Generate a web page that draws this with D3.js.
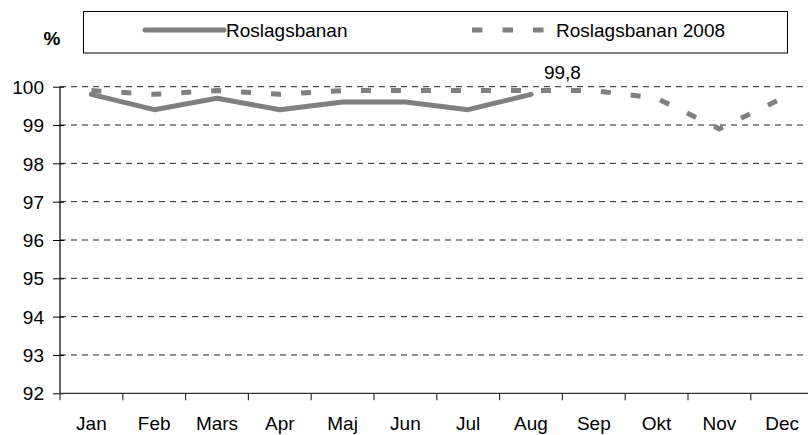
<!DOCTYPE html>
<html>
<head>
<meta charset="utf-8">
<script src="https://cdn.jsdelivr.net/npm/d3@7"></script>
<style>
  html, body { margin: 0; padding: 0; background: #fff; }
  svg { display: block; }
  text { font-family: "Liberation Sans", Arial, sans-serif; fill: #000; }
</style>
</head>
<body>
<svg id="chart" width="808" height="435"></svg>
<script>
const categories = ["Jan","Feb","Mars","Apr","Maj","Jun","Jul","Aug","Sep","Okt","Nov","Dec"];
const seriesNames = ["Roslagsbanan", "Roslagsbanan 2008"];
const roslagsbanan = [99.8, 99.4, 99.7, 99.4, 99.6, 99.6, 99.4, 99.8];
const roslagsbanan2008 = [99.9, 99.8, 99.9, 99.8, 99.9, 99.9, 99.9, 99.9, 99.9, 99.7, 98.9, 99.7];
const yTicks = [92, 93, 94, 95, 96, 97, 98, 99, 100];
const lastLabel = "99,8";

const svg = d3.select("#chart");
const W = 808, H = 435;
const x0 = 60, bandW = 62.8;
const x = d3.scaleBand().domain(categories).range([x0, x0 + bandW * categories.length]).padding(0);
const y = d3.scaleLinear().domain([92, 100]).range([393.3, 86.7]);
const cx = c => x(c) + x.bandwidth() / 2;

// gridlines
svg.append("g").selectAll("line").data(yTicks.filter(t => t !== 92)).join("line")
  .attr("x1", x0).attr("x2", W)
  .attr("y1", d => y(d)).attr("y2", d => y(d))
  .attr("stroke", "#222").attr("stroke-width", 1)
  .attr("stroke-dasharray", "6,5");

// y axis
const yAxis = d3.axisLeft(y).tickValues(yTicks).tickSize(7).tickPadding(9).tickFormat(d3.format("d"));
const gy = svg.append("g").attr("transform", `translate(${x0},0)`).call(yAxis);
gy.select(".domain").remove();
gy.selectAll(".tick line").attr("x1", -7).attr("x2", 4).attr("stroke", "#000");
gy.selectAll("text").style("font-size", "19px").attr("fill", "#000").attr("dy", "0.35em");
svg.append("line").attr("x1", x0).attr("x2", x0).attr("y1", y(100)).attr("y2", y(92))
  .attr("stroke", "#000").attr("stroke-width", 1.2);

// x axis
const xTickPos = categories.map(c => x(c));
svg.append("line").attr("x1", x0).attr("x2", W).attr("y1", y(92)).attr("y2", y(92))
  .attr("stroke", "#333").attr("stroke-width", 1.3);
svg.append("g").selectAll("line").data(xTickPos).join("line")
  .attr("x1", d => d).attr("x2", d => d)
  .attr("y1", y(92)).attr("y2", y(92) + 7)
  .attr("stroke", "#333").attr("stroke-width", 1.2);
svg.append("g").selectAll("text").data(categories).join("text")
  .attr("x", d => cx(d)).attr("y", 430)
  .attr("text-anchor", "middle").style("font-size", "19px")
  .text(d => d);

// lines
const line = d3.line().x((d, i) => cx(categories[i])).y(d => y(d));
svg.append("path").datum(roslagsbanan2008)
  .attr("d", line).attr("fill", "none")
  .attr("stroke", "#808080").attr("stroke-width", 5)
  .attr("stroke-dasharray", "10,20");
svg.append("path").datum(roslagsbanan)
  .attr("d", line).attr("fill", "none")
  .attr("stroke", "#808080").attr("stroke-width", 5)
  .attr("stroke-linejoin", "round").attr("stroke-linecap", "round");

// data label
const li = roslagsbanan.length - 1;
svg.append("text")
  .attr("x", cx(categories[li]) + x.bandwidth() / 2)
  .attr("y", y(roslagsbanan[li]) - 15)
  .attr("text-anchor", "middle").style("font-size", "19px")
  .text(lastLabel);

// % label
svg.append("text").attr("x", 52).attr("y", 45).attr("text-anchor", "middle")
  .style("font-size", "19px").style("font-weight", "bold").text("%");

// legend
svg.append("rect").attr("x", 83.5).attr("y", 11.5).attr("width", 704).attr("height", 41.5)
  .attr("fill", "#fff").attr("stroke", "#000").attr("stroke-width", 1);
svg.append("line").attr("x1", 145).attr("x2", 224).attr("y1", 30).attr("y2", 30)
  .attr("stroke", "#808080").attr("stroke-width", 5).attr("stroke-linecap", "round");
svg.append("text").attr("x", 226).attr("y", 37).style("font-size", "19px").text(seriesNames[0]);
svg.append("line").attr("x1", 472).attr("x2", 545).attr("y1", 30).attr("y2", 30)
  .attr("stroke", "#808080").attr("stroke-width", 5).attr("stroke-dasharray", "10.5,20");
svg.append("text").attr("x", 556).attr("y", 37).style("font-size", "19px").text(seriesNames[1]);
</script>
</body>
</html>
